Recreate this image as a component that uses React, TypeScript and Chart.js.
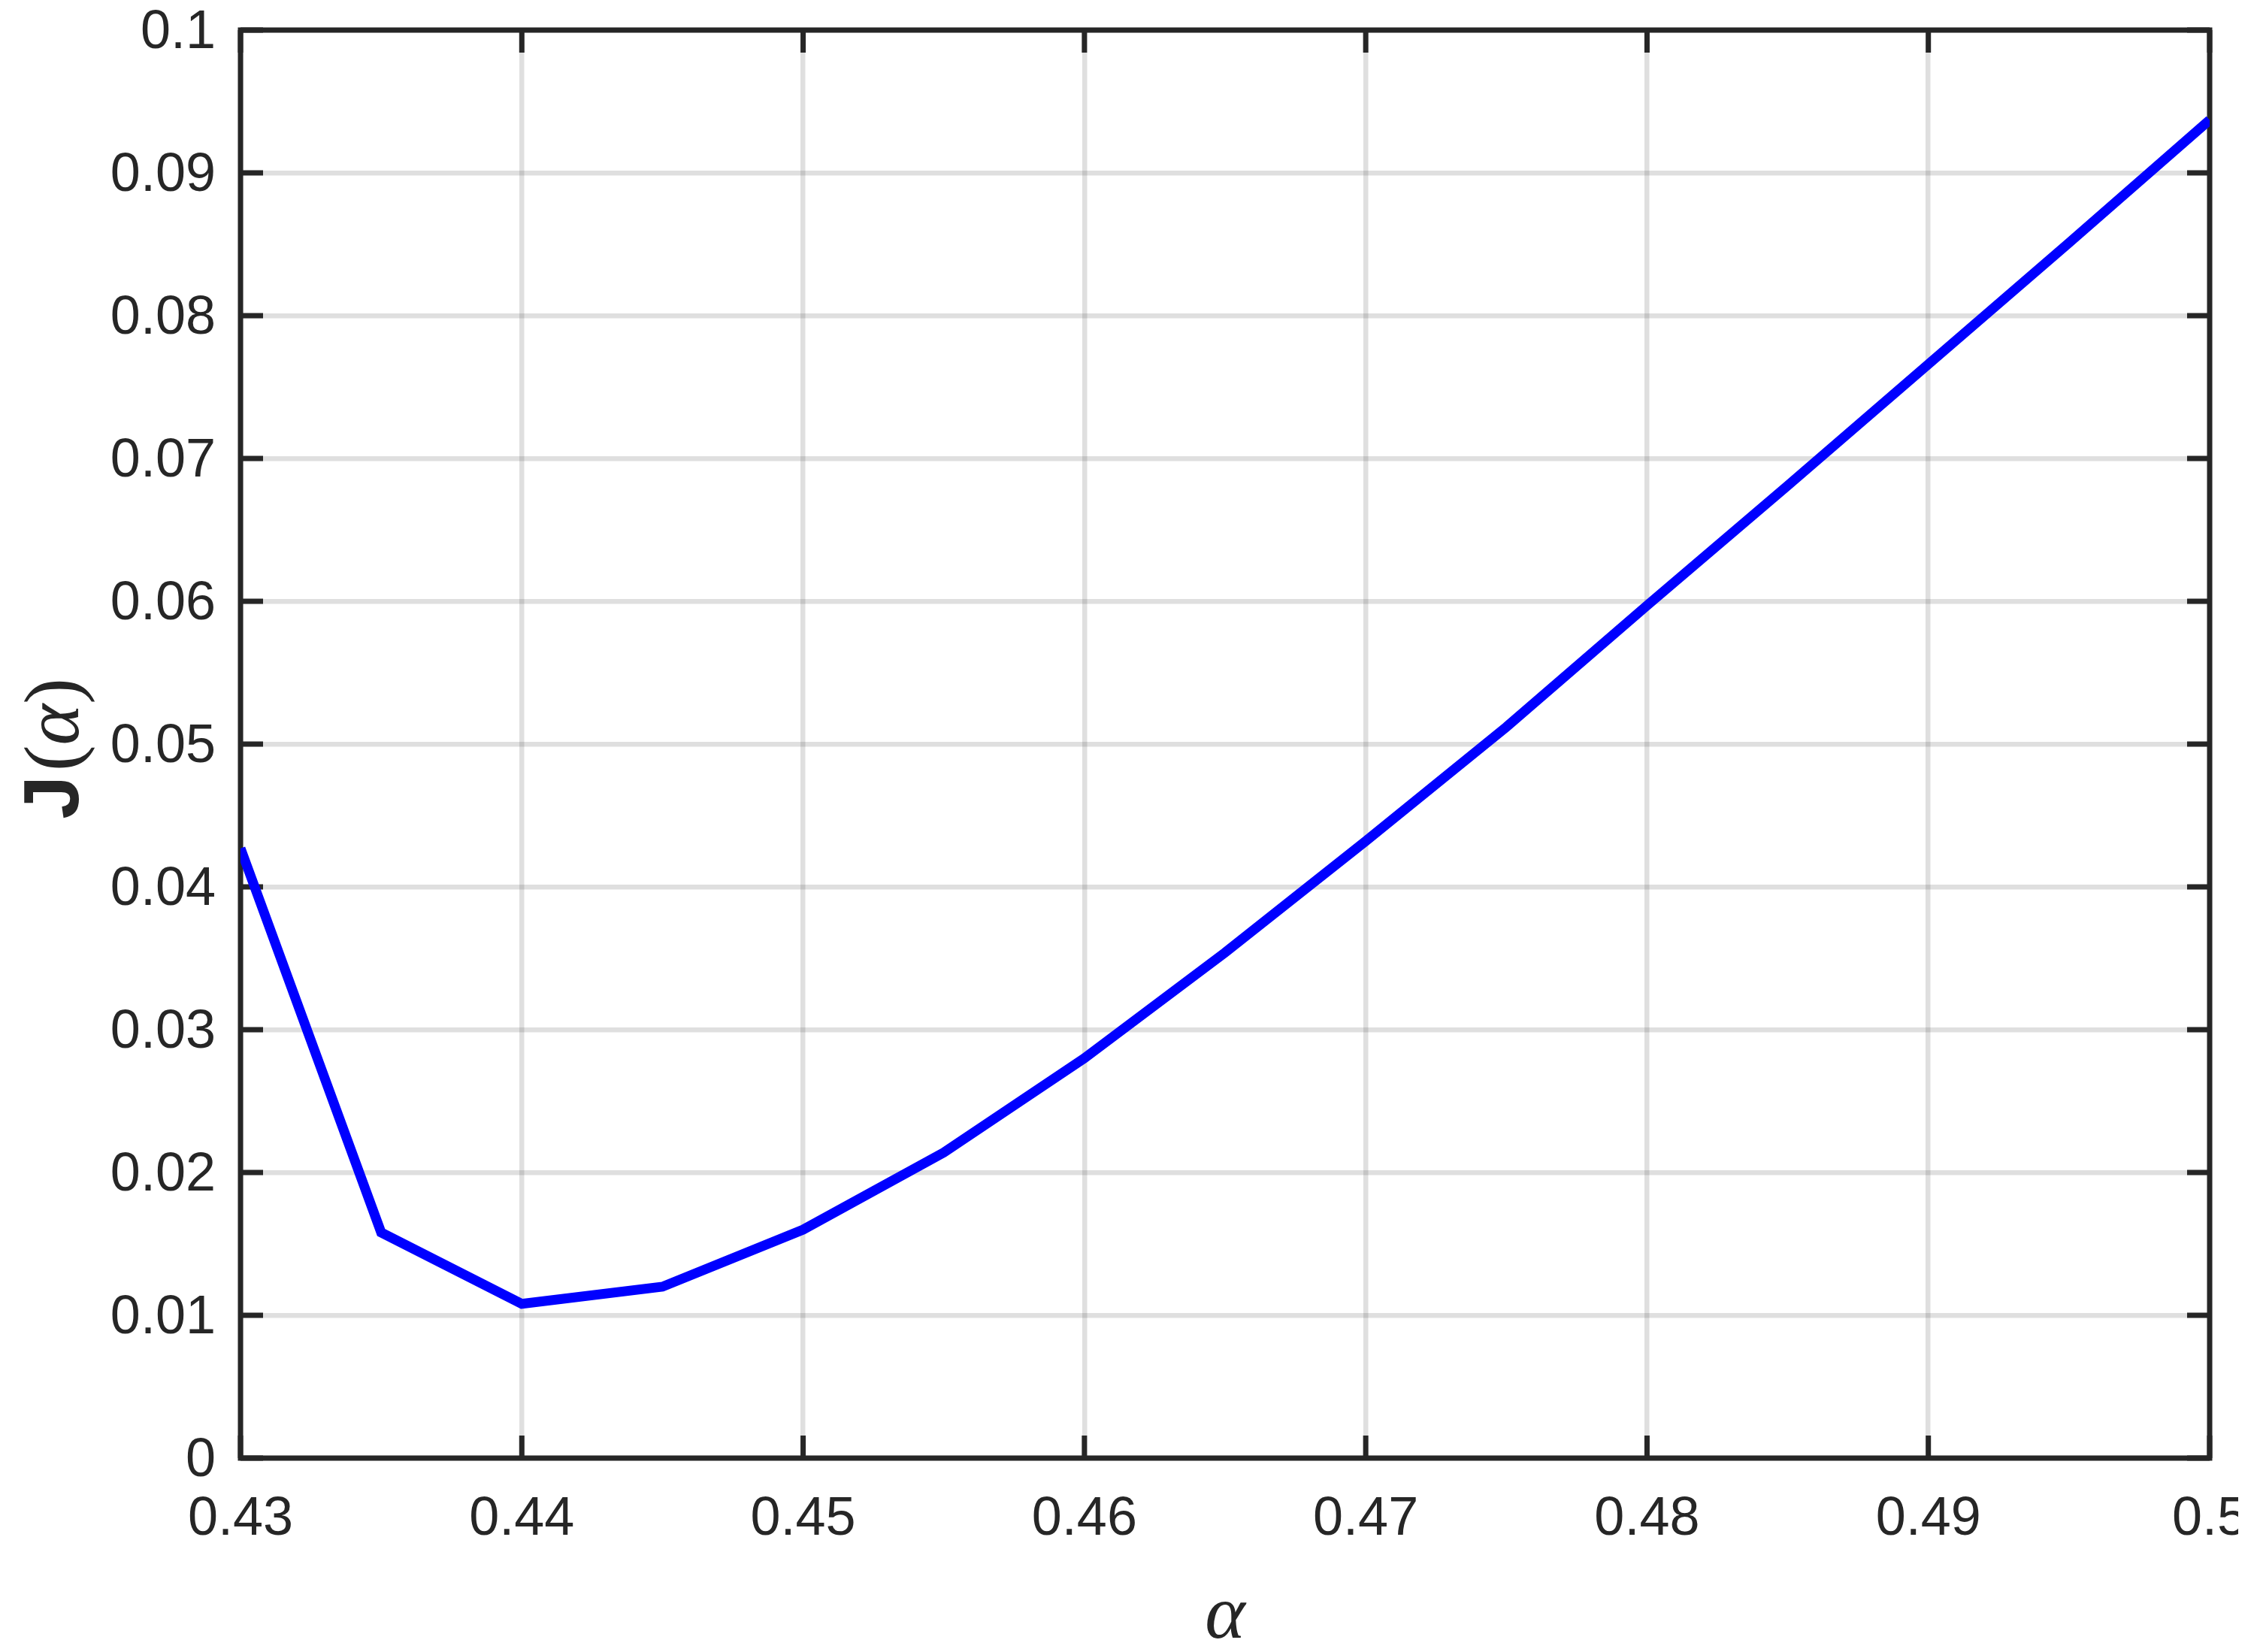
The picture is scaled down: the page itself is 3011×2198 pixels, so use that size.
import React, { useEffect, useRef } from "react";
import { Chart, registerables } from "chart.js";

Chart.register(...registerables);

// ---- data ----
const alphaValues = [0.43, 0.435, 0.44, 0.445, 0.45, 0.455, 0.46, 0.465, 0.47, 0.475, 0.48, 0.485, 0.49, 0.495, 0.5];
const jValues = [0.0427, 0.0158, 0.0108, 0.012, 0.016, 0.0214, 0.028, 0.0354, 0.0432, 0.0512, 0.0597, 0.0681, 0.0766, 0.0851, 0.0937];

const xRange = [0.43, 0.5];
const xStep = 0.01;
const yRange = [0, 0.1];
const yStep = 0.01;

const xTitle = "α";
const yTitleParts = ["J", "(", "α", ")"];

const INK = "#262626";
const SANS = '"Liberation Sans", Arial, Helvetica, sans-serif';
const SERIF = '"Liberation Serif", "Times New Roman", serif';

const fmt = (v: number) => String(Number(Number(v).toFixed(3)));

const framePlugin = {
  id: "matlabFrame",
  beforeDatasetsDraw(chart: any) {
    const { ctx, chartArea: a, scales } = chart;
    const tickLen = 30;
    ctx.save();
    ctx.strokeStyle = INK;
    ctx.lineWidth = 7;
    ctx.lineCap = "butt";
    ctx.lineJoin = "miter";
    ctx.beginPath();
    for (const t of scales.x.ticks) {
      const px = scales.x.getPixelForValue(t.value);
      ctx.moveTo(px, a.bottom);
      ctx.lineTo(px, a.bottom - tickLen);
      ctx.moveTo(px, a.top);
      ctx.lineTo(px, a.top + tickLen);
    }
    for (const t of scales.y.ticks) {
      const py = scales.y.getPixelForValue(t.value);
      ctx.moveTo(a.left, py);
      ctx.lineTo(a.left + tickLen, py);
      ctx.moveTo(a.right, py);
      ctx.lineTo(a.right - tickLen, py);
    }
    ctx.stroke();
    ctx.strokeRect(a.left, a.top, a.right - a.left, a.bottom - a.top);
    ctx.restore();
  },
  afterDraw(chart: any) {
    const { ctx, chartArea: a } = chart;
    const size = 104;
    const fonts = [
      `normal normal bold ${size}px Arial, "Liberation Sans", sans-serif`,
      `normal normal normal ${size}px "Liberation Serif", serif`,
      `italic normal normal ${size}px "Liberation Serif", serif`,
      `normal normal normal ${size}px "Liberation Serif", serif`,
    ];
    ctx.save();
    let total = 0;
    const widths: number[] = [];
    yTitleParts.forEach((p, i) => {
      ctx.font = fonts[i];
      const w = ctx.measureText(p).width + (i === 0 ? 6 : 0);
      widths.push(w);
      total += w;
    });
    const cy = (a.top + a.bottom) / 2 + 6;
    ctx.translate(a.left - 216, cy);
    ctx.rotate(-Math.PI / 2);
    ctx.fillStyle = INK;
    ctx.textBaseline = "alphabetic";
    ctx.textAlign = "left";
    let x = -total / 2;
    yTitleParts.forEach((p, i) => {
      ctx.font = fonts[i];
      ctx.fillText(p, x, 0);
      x += widths[i];
    });
    ctx.restore();
  },
};

export default function App() {
  const canvasRef = useRef<HTMLCanvasElement | null>(null);

  useEffect(() => {
    const canvas = canvasRef.current;
    if (!canvas) return;
    const chart = new Chart(canvas, {
      type: "line",
      data: {
        datasets: [
          {
            data: alphaValues.map((x, i) => ({ x, y: jValues[i] })),
            borderColor: "#0000ff",
            backgroundColor: "#0000ff",
            borderWidth: 13,
            pointRadius: 0,
            tension: 0,
            borderJoinStyle: "miter",
            borderCapStyle: "butt",
            fill: false,
          },
        ],
      },
      options: {
        responsive: false,
        animation: false,
        devicePixelRatio: 1,
        layout: { padding: { top: 40, right: 38, left: 0, bottom: 0 } },
        plugins: {
          legend: { display: false },
          tooltip: { enabled: false },
          title: { display: false },
        },
        scales: {
          x: {
            type: "linear",
            min: xRange[0],
            max: xRange[1],
            grid: { color: "rgba(38,38,38,0.15)", lineWidth: 6.5, drawTicks: false },
            border: { display: false },
            ticks: {
              stepSize: xStep,
              autoSkip: false,
              maxRotation: 0,
              minRotation: 0,
              padding: 39,
              color: INK,
              font: { family: SANS, size: 72 },
              callback: (v: any) => fmt(v),
            },
            title: {
              display: true,
              text: xTitle,
              color: INK,
              font: { family: SERIF, size: 102, style: "italic", lineHeight: 1 },
              padding: { top: 0, bottom: -5 },
            },
            afterFit: (s: any) => {
              s.height = 258;
              s.paddingLeft = 0;
              s.paddingRight = 0;
            },
          },
          y: {
            type: "linear",
            min: yRange[0],
            max: yRange[1],
            grid: { color: "rgba(38,38,38,0.15)", lineWidth: 6.5, drawTicks: false },
            border: { display: false },
            ticks: {
              stepSize: yStep,
              autoSkip: false,
              padding: 33,
              labelOffset: 4,
              color: INK,
              font: { family: SANS, size: 72 },
              callback: (v: any) => fmt(v),
            },
            title: { display: false },
            afterFit: (s: any) => {
              s.width = 320;
              s.paddingTop = 0;
              s.paddingBottom = 0;
            },
          },
        },
      },
      plugins: [framePlugin],
    });
    return () => chart.destroy();
  }, []);

  return (
    <div style={{ position: "absolute", left: 0, top: 0, width: 2978, height: 2198, background: "#fff" }}>
      <canvas ref={canvasRef} width={2978} height={2198} style={{ display: "block" }} />
    </div>
  );
}
